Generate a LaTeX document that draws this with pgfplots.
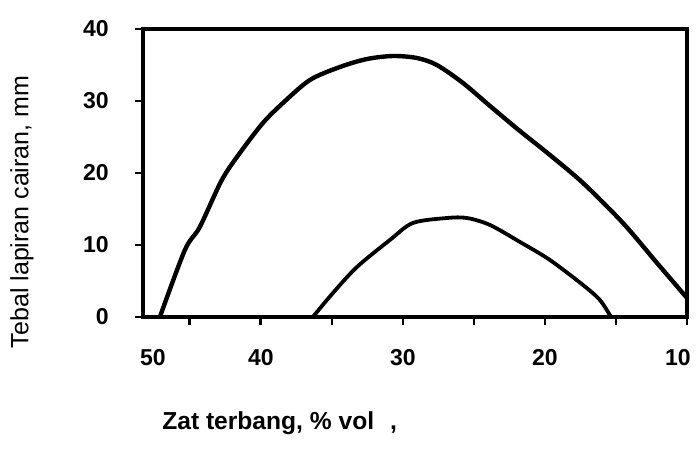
\documentclass[border=0pt]{standalone}
\usepackage{fontspec}
\setmainfont{Liberation Sans}
\usepackage{pgfplots}
\pgfplotsset{compat=1.18}
\begin{document}
\begin{tikzpicture}
\begin{axis}[
  scale only axis, width=272pt, height=144pt,
  at={(0,0)}, anchor=south west,
  x dir=reverse, xmin=10, xmax=48.3, ymin=0, ymax=40,
  line width=1.6pt,
  xtick={40,30,20,10}, minor xtick={45,35,25,15},
  xticklabels={40,30,20,{10\rule{9pt}{0pt}}},
  extra x ticks={47.6}, extra x tick labels={50},
  extra x tick style={major tick length=0pt, xticklabel shift=12pt},
  ytick={0,10,20,30,40},
  tick pos=left,
  tick align=outside, major tick length=4pt, minor tick length=4pt,
  every tick/.style={black, line width=1.4pt},
  /pgf/number format/assume math mode=true,
  ticklabel style={font=\bfseries\fontsize{11.5}{13}\selectfont},
  xticklabel shift=8pt, yticklabel shift=9pt,
  xlabel={Zat terbang, \% vol\hspace{8pt},},
  ylabel={Tebal lapiran cairan, mm},
  xlabel style={font=\bfseries\fontsize{12.3}{14}\selectfont, at={(axis description cs:0.0203,-0.368)}, anchor=west},
  ylabel style={font=\fontsize{12.5}{14}\selectfont, at={(axis description cs:-0.2224,0.365)}, anchor=center},
  clip=false,
]
\addplot[black, line width=2.2pt, smooth, tension=0.5] coordinates {
(47.11,0) (45.35,9.31) (44.30,12.5) (42.75,19.03) (41.48,22.78) (39.86,26.94)
(38.45,29.72) (36.55,32.92) (34.44,34.72) (32.54,35.83) (30.70,36.25) (29.01,35.97)
(27.61,35.00) (25.77,32.50) (23.87,29.31) (21.76,25.83) (19.65,22.5) (17.32,18.61)
(14.51,13.06) (12.11,7.50) (10.0,2.64)
};
\addplot[black, line width=1.9pt, smooth, tension=0.5] coordinates {
(36.34,0) (34.93,3.33) (33.24,6.94) (30.92,10.69) (29.30,13.06) (26.90,13.75)
(25.49,13.75) (23.87,12.78) (21.76,10.42) (19.65,7.92) (17.32,4.44) (16.13,2.36) (15.35,0)
};
\end{axis}
\pgfresetboundingbox
\path[use as bounding box] (-71.5pt,-66pt) rectangle (277pt,158.5pt);
\end{tikzpicture}
\end{document}
